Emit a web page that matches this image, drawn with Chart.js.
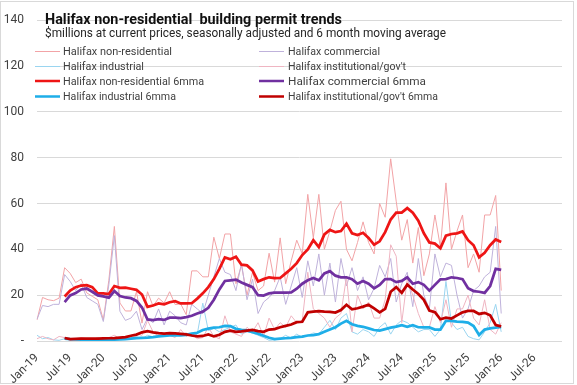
<!DOCTYPE html>
<html>
<head>
<meta charset="utf-8">
<script src="https://cdn.jsdelivr.net/npm/chart.js@4.4.1/dist/chart.umd.min.js"></script>
<style>
  html, body { margin: 0; padding: 0; background: #fff; }
  #wrap { width: 577px; height: 385px; }
</style>
</head>
<body>
<div id="wrap"><canvas id="chart" width="577" height="385"></canvas></div>
<script>
// categories: Jan-19 .. Dec-26 (axis runs past the last data month)
const years = ['19', '20', '21', '22', '23', '24', '25', '26'];
const monthNames = ['Jan', 'Feb', 'Mar', 'Apr', 'May', 'Jun', 'Jul', 'Aug', 'Sep', 'Oct', 'Nov', 'Dec'];
const months = [];
years.forEach(y => monthNames.forEach(m => months.push(m + '-' + y)));

const tickLabels = ['Jan-19', 'Jul-19', 'Jan-20', 'Jul-20', 'Jan-21', 'Jul-21', 'Jan-22', 'Jul-22',
    'Jan-23', 'Jul-23', 'Jan-24', 'Jul-24', 'Jan-25', 'Jul-25', 'Jan-26', 'Jul-26'];
const yTicks = [0, 20, 40, 60, 80, 100, 120, 140];

const chartTitle = 'Halifax non-residential  building permit trends';
const chartSubtitle = '$millions at current prices, seasonally adjusted and 6 month moving average';

// monthly values, $ millions (Jan-19 .. Jan-26)
const nonResidential = [9.2, 19, 18, 17.6, 18.7, 32, 29.5, 25.5, 27, 21,
    19.5, 18, 9.2, 26.5, 50, 16.6, 13.1, 13.1, 21.5, 7.8,
    21.5, 15.2, 18.7, 16.6, 21.5, 15.9, 16.2, 11.5, 30.6, 30.6,
    28, 28, 45.3, 36, 46.7, 46.7, 25, 33, 20, 30,
    22, 24, 38.3, 25.7, 45, 25, 35, 44, 38, 64,
    45, 64, 40, 48, 57, 61, 40, 35, 43, 52,
    43, 38, 60, 54, 79.5, 61, 44, 53, 34, 49.5,
    28.5, 38, 55, 41, 69, 40, 48, 55, 32, 38,
    30, 55, 55, 63.5, 22];
const commercial = [9.5, 15.5, 15, 16, 16, 29, 26, 22, 25, 19,
    17.5, 16, 8.5, 24.5, 46, 13, 9, 10, 13, 5,
    10, 8, 14, 7, 13, 11, 8, 7, 16, 14,
    12, 20, 28, 36, 30, 29, 22, 34, 18, 27,
    12, 17, 19, 22, 28, 16, 24, 32, 19, 35,
    24, 38, 20, 34, 17, 36, 24, 32, 22, 28,
    18, 23, 33, 28, 36, 17, 25, 30, 15, 36,
    20, 14, 38, 28, 34, 33, 20, 10, 14, 22,
    24, 28, 30, 50, 12];
const industrial = [2.5, 1, 1.5, 0.5, 0.3, 1, 0.5, 0.8, 0.3, 0.5,
    0.8, 0.2, 0.5, 0.5, 1, 0.8, 1.2, 1.5, 1.8, 1,
    2.5, 1.8, 2.5, 2, 3.5, 2.5, 2.5, 3.5, 2, 3,
    16.5, 4.5, 5.5, 4, 5, 6, 7, 3, 4, 3.5,
    2.5, 1.5, 0.3, 0.5, 1, 2.5, 1.2, 3, 1.5, 2.5,
    3.5, 3, 6, 9, 5, 10, 12, 4, 3, 5,
    4, 2, 6, 8, 3, 7, 9, 8, 6, 4,
    5, 5, 2, 5, 26, 8, 5, 6, 2, 1,
    0.5, 4, 8, 16, 4];
const institutional = [1, 2, 1, 0.5, 2, 1.5, 0.5, 1, 1.5, 1,
    0.5, 1.5, 0.5, 1.5, 2.5, 1, 1.5, 2.5, 3, 2.5,
    9, 4, 2, 3, 2.5, 1.5, 5, 2, 3, 1,
    1.5, 6, 2, 1, 11, 4, 3, 2, 6, 4,
    8, 2, 10, 5, 8, 6, 11, 8, 9, 30,
    14, 12, 10, 6, 10, 12, 28, 4, 20, 14,
    17, 10, 10, 18, 42, 37, 8, 27, 20, 12,
    6, 6, 15, 8, 18, 6, 14, 14, 20, 10,
    7, 18, 5, 3, 8];

// 6 month moving averages as plotted
const nonResidential6 = [null, null, null, null, null, 19.4, 22, 23.5, 24.2, 24.4,
    23.5, 20.8, 20.8, 20.5, 24, 23.2, 23.3, 22.8, 22.3, 20.3,
    14.9, 15.5, 16.4, 16, 16.9, 17.4, 16.4, 16.4, 16.5, 18.5,
    20.8, 23.5, 27, 31.5, 36.5, 35.7, 36.8, 33.3, 33, 30.8,
    26, 27, 27.8, 27.4, 27.5, 29.5, 31.5, 34, 37.5, 40,
    44, 41, 46.5, 48.5, 47.5, 48, 51.2, 47, 46.2, 47.2,
    45, 42, 43.5, 47.5, 53, 56, 56, 58, 56, 52.5,
    47, 43, 42.5, 40.5, 46, 46.7, 47, 47.8, 44, 41.8,
    36.5, 38.5, 41.8, 44.3, 43.2];
const commercial6 = [null, null, null, null, null, 17, 19.9, 20.9, 22.5, 22.9,
    21.5, 19.9, 19.5, 18.9, 21.8, 19.6, 19, 18.7, 17.5, 14.6,
    9.4, 9.1, 9.5, 9.2, 10.2, 10.2, 10, 10.4, 11, 12,
    12.8, 14.5, 18, 22.5, 26.2, 26.5, 26.8, 25.5, 24.5, 23.5,
    20, 19.8, 20.8, 21.1, 21.1, 21.1, 21.2, 22.8, 25, 26.5,
    27.5, 26.5, 29.5, 30.5, 28.5, 27.8, 27.8, 27, 25, 26.2,
    25, 23, 24.5, 27, 27, 25.7, 26.2, 27.8, 25, 25.7,
    24.5, 22, 24.5, 26.9, 27, 27.8, 27.5, 27, 23, 21.8,
    21.5, 21, 24, 31.5, 31];
const industrial6 = [null, null, null, null, null, 1.0, 0.8, 0.7, 0.6, 0.5,
    0.5, 0.4, 0.5, 0.5, 0.6, 0.7, 0.8, 1.0, 1.3, 1.4,
    1.5, 1.7, 2.0, 2.2, 2.5, 2.5, 2.5, 2.7, 3.2, 3.6,
    4.8, 5.4, 5.8, 6.0, 6.6, 6.5, 5.3, 4.9, 4.6, 3.8,
    3.2, 2.3, 1.4, 0.8, 1.0, 1.2, 1.4, 1.7, 1.9, 2.4,
    2.6, 3.0, 4.0, 5.0, 6.0, 7.6, 8.8, 7.3, 6.6, 6.2,
    5.5, 4.8, 4.5, 5.2, 5.8, 6.3, 6.9, 6.2, 6.9, 6.0,
    5.9, 5.9, 5.0, 5.0, 8.8, 8.8, 8.5, 8.3, 8.0, 6.5,
    2.6, 5.0, 5.5, 5.8, 6.2];
const institutional6 = [null, null, null, null, null, 1.3, 0.8, 0.9, 1.0, 1.0,
    1.0, 1.0, 1.1, 1.2, 1.3, 1.5, 1.7, 2.3, 2.8, 3.8,
    4.3, 3.8, 3.4, 3.2, 3.4, 3.3, 3.1, 2.9, 2.4, 2.0,
    2.2, 2.9, 2.0, 2.7, 4.0, 4.5, 4.0, 4.2, 4.5, 4.8,
    4.3, 4.0, 5.0, 5.2, 6.0, 6.6, 7.2, 8.2, 8.4, 12.5,
    12.8, 13.0, 12.8, 12.7, 12.4, 13.5, 15.8, 13.8, 14.3, 15.0,
    15.8, 14.2, 12.5, 14.0, 21.5, 23.5, 21.0, 24.6, 22.5, 20.5,
    18, 13.3, 12.6, 9.5, 10.2, 9.8, 11.2, 12.5, 13.1, 13.1,
    11.8, 12.3, 11.2, 7.0, 6.4];

const seriesNames = ['Halifax non-residential', 'Halifax commercial', 'Halifax industrial',
    "Halifax institutional/gov't", 'Halifax non-residential 6mma', 'Halifax commercial 6mma',
    'Halifax industrial 6mma', "Halifax institutional/gov't 6mma"];
const seriesData = [nonResidential, commercial, industrial, institutional,
    nonResidential6, commercial6, industrial6, institutional6];
const seriesColors = ['#f2a3a6', '#bfb2db', '#9ad5f0', '#efb5c2', '#ee1515', '#7030a0', '#1eaee8', '#c00000'];
const seriesWidths = [1, 1, 1, 1, 2.75, 2.75, 2.75, 2.75];

// legend spots, [x of line start, y of line, x of text, target text width]
const legendSpots = [
    [35, 51.5, 63, 109], [259, 51.5, 288, 92],
    [35, 66.5, 63, 81], [259, 66.5, 288, 118],
    [35, 81, 63, 141], [259, 81, 288, 138],
    [35, 96.5, 63, 113], [259, 96.5, 288, 150]
];
const legendOrder = [0, 1, 2, 3, 4, 5, 6, 7];

function fitText(c, text, x, y, w, font, color) {
    c.font = font;
    c.fillStyle = color;
    c.textAlign = 'left';
    c.textBaseline = 'alphabetic';
    const m = c.measureText(text).width;
    c.save();
    c.translate(x, y);
    c.scale(w / m, 1);
    c.fillText(text, 0, 0);
    c.restore();
}

const overlay = {
    id: 'overlay',
    afterDraw(chart) {
        const c = chart.ctx;
        c.save();
        c.strokeStyle = '#d9d9d9';
        c.lineWidth = 1;
        c.strokeRect(0.5, 1.5, 573, 382);

        fitText(c, chartTitle, 45, 23.5, 297, 'bold 15px Roboto', '#111');
        fitText(c, chartSubtitle, 45, 37, 401, '12.5px Roboto', '#262626');

        legendOrder.forEach((s, k) => {
            const [lx, ly, tx, tw] = legendSpots[k];
            c.strokeStyle = seriesColors[s];
            c.lineWidth = seriesWidths[s] > 1 ? 2.5 : 1;
            c.beginPath();
            c.moveTo(lx, ly);
            c.lineTo(lx + 25, ly);
            c.stroke();
            fitText(c, seriesNames[s], tx, ly + 3.8, tw, '11px Roboto', '#404040');
        });
        c.restore();
    }
};

new Chart(document.getElementById('chart').getContext('2d'), {
    type: 'line',
    data: {
        labels: months,
        datasets: seriesData.map((d, i) => ({
            label: seriesNames[i],
            data: d,
            borderColor: seriesColors[i],
            backgroundColor: seriesColors[i],
            borderWidth: seriesWidths[i],
            pointRadius: 0,
            tension: 0,
            fill: false,
            order: 8 - i
        }))
    },
    options: {
        responsive: false,
        animation: false,
        layout: { padding: { top: 7.5, right: 15, left: 0, bottom: 0 } },
        plugins: {
            legend: { display: false },
            tooltip: { enabled: false }
        },
        scales: {
            x: {
                offset: false,
                grid: { display: false },
                border: { display: false },
                ticks: {
                    autoSkip: false,
                    maxRotation: 45,
                    minRotation: 45,
                    padding: 2,
                    color: '#404040',
                    font: { family: 'Roboto', size: 12 },
                    callback: function (v) {
                        const l = this.getLabelForValue(v);
                        return tickLabels.includes(l) ? l : null;
                    }
                },
                afterFit: s => { s.height = 44; }
            },
            y: {
                min: 0,
                max: 140,
                afterBuildTicks: s => { s.ticks = yTicks.map(v => ({ value: v })); },
                grid: { color: '#d9d9d9', drawTicks: false },
                border: { display: false },
                ticks: {
                    padding: 13,
                    color: '#404040',
                    font: { family: 'Roboto', size: 12 },
                    callback: v => v === 0 ? '-' : v
                },
                afterFit: s => { s.width = 37; }
            }
        }
    },
    plugins: [overlay]
});
</script>
</body>
</html>
